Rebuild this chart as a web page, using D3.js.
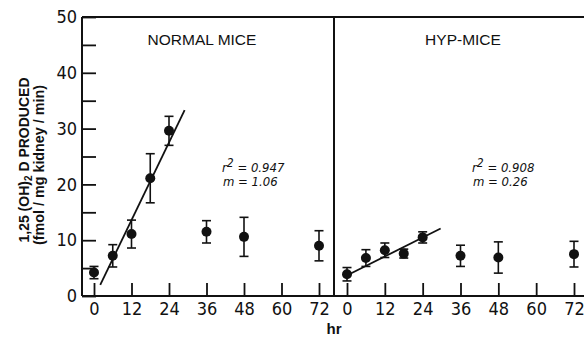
<!DOCTYPE html>
<html>
<head>
<meta charset="utf-8">
<script src="https://cdn.jsdelivr.net/npm/d3@7"></script>
<style>
  body { margin: 0; background: #fff; }
  svg { display: block; }
  text { fill: #111; }
</style>
</head>
<body>
<div id="chart"></div>
<script>
// hours after treatment, shared by both panels
const hours = [0, 6, 12, 18, 24, 36, 48, 72];
const normalMean = [4.2, 7.2, 11.1, 21.1, 29.6, 11.5, 10.6, 9.0];
const normalErr = [1.1, 2.0, 2.5, 4.4, 2.6, 2.0, 3.5, 2.7];
const hypMean = [3.9, 6.8, 8.2, 7.6, 10.5, 7.2, 6.9, 7.5];
const hypErr = [1.2, 1.5, 1.3, 0.8, 1.0, 1.9, 2.8, 2.3];
// regression lines (end points)
const normalFitHours = [2, 29];
const normalFitValues = [2.0, 33.3];
const hypFitHours = [0.4, 29.7];
const hypFitValues = [3.8, 12.1];
const xTicks = [0, 12, 24, 36, 48, 60, 72];
const yTicks = [0, 5, 10, 15, 20, 25, 30, 35, 40, 45, 50];

const W = 584, H = 337;
const plotTop = 17, plotBottom = 296, plotLeft = 82, plotMid = 334, plotRight = 584;
const ink = '#111';

const svg = d3.select('#chart').append('svg')
  .attr('width', W).attr('height', H);

const y = d3.scaleLinear().domain([0, 50]).range([plotBottom, plotTop]);

const panels = [
  { title: 'NORMAL MICE', titleX: 202, mean: normalMean, err: normalErr,
    fitH: normalFitHours, fitV: normalFitValues, r2: '0.947', m: '1.06', noteX: 222,
    x: d3.scaleLinear().domain([0, 72]).range([94, 319]) },
  { title: 'HYP-MICE', titleX: 463, mean: hypMean, err: hypErr,
    fitH: hypFitHours, fitV: hypFitValues, r2: '0.908', m: '0.26', noteX: 472,
    x: d3.scaleLinear().domain([0, 72]).range([347, 574]) }
];

// frame
const frame = svg.append('g').attr('stroke', ink).attr('stroke-width', 2);
frame.append('line').attr('x1', plotLeft).attr('x2', plotRight).attr('y1', plotTop).attr('y2', plotTop);
frame.append('line').attr('x1', plotLeft).attr('x2', plotRight).attr('y1', plotBottom).attr('y2', plotBottom);
frame.append('line').attr('x1', plotLeft).attr('x2', plotLeft).attr('y1', plotTop).attr('y2', plotBottom);
frame.append('line').attr('x1', plotMid).attr('x2', plotMid).attr('y1', plotTop).attr('y2', plotBottom);

// y axis, ticks point inwards
const yAxis = svg.append('g').attr('transform', `translate(${plotLeft},0)`)
  .call(d3.axisLeft(y).tickValues(yTicks).tickSize(-14).tickPadding(5)
    .tickFormat(d => d % 10 === 0 ? d : ''));
yAxis.select('.domain').remove();
yAxis.selectAll('line').attr('stroke', ink).attr('stroke-width', 1.8);
yAxis.selectAll('text')
  .attr('font-family', '"Liberation Sans Narrow", "DejaVu Sans Condensed", sans-serif')
  .attr('font-size', 18).attr('fill', ink);

// y label, two rotated lines
const ylab = svg.append('g').attr('font-family', '"Liberation Sans", Arial, sans-serif')
  .attr('font-weight', 'bold').attr('font-size', 14).attr('fill', ink);
const l1 = ylab.append('text').attr('transform', 'translate(29,160) rotate(-90)')
  .attr('text-anchor', 'middle');
l1.append('tspan').text('1,25 (OH)');
l1.append('tspan').attr('dy', 3).attr('font-size', 10).text('2');
l1.append('tspan').attr('dy', -3).text(' D PRODUCED');
ylab.append('text').attr('transform', 'translate(44,165) rotate(-90)')
  .attr('text-anchor', 'middle').attr('textLength', 160).attr('lengthAdjust', 'spacingAndGlyphs')
  .text('(fmol / mg kidney / min)');

panels.forEach(p => {
  const g = svg.append('g');

  const xAxis = g.append('g').attr('transform', `translate(0,${plotBottom})`)
    .call(d3.axisBottom(p.x).tickValues(xTicks).tickSize(-13).tickPadding(6));
  xAxis.select('.domain').remove();
  xAxis.selectAll('line').attr('stroke', ink).attr('stroke-width', 1.8);
  xAxis.selectAll('text')
    .attr('font-family', '"Liberation Sans Narrow", "DejaVu Sans Condensed", sans-serif')
    .attr('font-size', 18).attr('fill', ink);

  g.append('text').attr('x', p.titleX).attr('y', 45).attr('text-anchor', 'middle')
    .attr('font-family', '"Liberation Sans", Arial, sans-serif').attr('font-size', 15.5)
    .text(p.title);

  // regression line
  g.append('line')
    .attr('x1', p.x(p.fitH[0])).attr('y1', y(p.fitV[0]))
    .attr('x2', p.x(p.fitH[1])).attr('y2', y(p.fitV[1]))
    .attr('stroke', ink).attr('stroke-width', 1.8);

  const pts = hours.map((h, i) => ({ h, v: p.mean[i], e: p.err[i] }));

  // error bars
  const eb = g.append('g').attr('stroke', ink).attr('stroke-width', 1.6);
  eb.selectAll('.v').data(pts).join('line').attr('class', 'v')
    .attr('x1', d => p.x(d.h)).attr('x2', d => p.x(d.h))
    .attr('y1', d => y(d.v - d.e)).attr('y2', d => y(d.v + d.e));
  eb.selectAll('.t').data(pts).join('line').attr('class', 't')
    .attr('x1', d => p.x(d.h) - 4.5).attr('x2', d => p.x(d.h) + 4.5)
    .attr('y1', d => y(d.v + d.e)).attr('y2', d => y(d.v + d.e));
  eb.selectAll('.b').data(pts).join('line').attr('class', 'b')
    .attr('x1', d => p.x(d.h) - 4.5).attr('x2', d => p.x(d.h) + 4.5)
    .attr('y1', d => y(d.v - d.e)).attr('y2', d => y(d.v - d.e));

  g.selectAll('circle').data(pts).join('circle')
    .attr('cx', d => p.x(d.h)).attr('cy', d => y(d.v)).attr('r', 5)
    .attr('fill', ink);

  // r² and slope note
  const note = g.append('g').attr('font-family', '"Liberation Sans Narrow", "DejaVu Sans Condensed", sans-serif')
    .attr('font-style', 'italic').attr('font-size', 13).attr('fill', ink);
  const t1 = note.append('text').attr('x', p.noteX).attr('y', 172);
  t1.append('tspan').text('r');
  t1.append('tspan').attr('dy', -5).attr('font-size', 12).text('2');
  t1.append('tspan').attr('dy', 5).text(' = ' + p.r2);
  note.append('text').attr('x', p.noteX + 1).attr('y', 186).text('m = ' + p.m);
});

svg.append('text').attr('x', 334).attr('y', 334).attr('text-anchor', 'middle')
  .attr('font-family', '"Liberation Sans", Arial, sans-serif').attr('font-weight', 'bold')
  .attr('font-size', 15).text('hr');
</script>
</body>
</html>
